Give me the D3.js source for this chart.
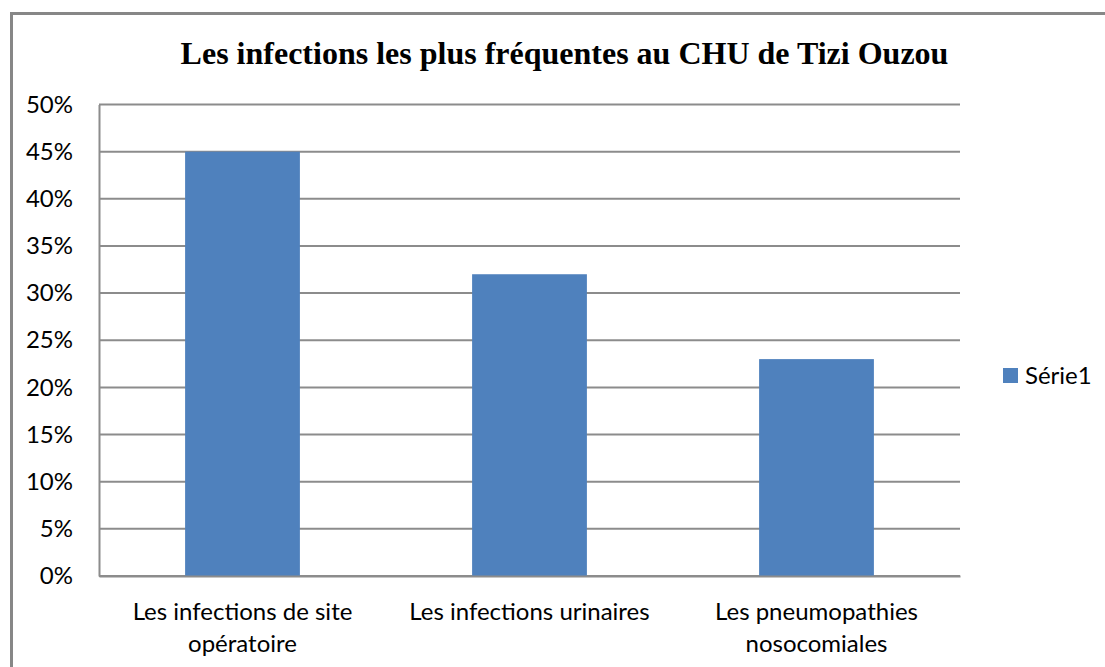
<!DOCTYPE html>
<html>
<head>
<meta charset="utf-8">
<script src="https://cdn.jsdelivr.net/npm/d3@7/dist/d3.min.js"></script>
<style>
  html, body { margin: 0; padding: 0; background: #fff; overflow: hidden; }
  svg { display: block; }
</style>
</head>
<body>
<script>
const title = "Les infections les plus fréquentes au CHU de Tizi Ouzou";
const categories = ["Les infections de site\nopératoire", "Les infections urinaires", "Les pneumopathies\nnosocomiales"];
const values = [0.45, 0.32, 0.23];
const seriesName = "Série1";
const yTicks = [0, 0.05, 0.10, 0.15, 0.20, 0.25, 0.30, 0.35, 0.40, 0.45, 0.50];

const W = 1105, H = 667;
const bodyFont = "Lato, 'Noto Sans', sans-serif";
const svg = d3.select("body").append("svg").attr("width", W).attr("height", H);

// outer frame (only top and left edges are visible in the reference)
svg.append("path")
  .attr("d", `M11.5,${H} L11.5,13.5 L${W},13.5`)
  .attr("fill", "none").attr("stroke", "#878787").attr("stroke-width", 3);

const plot = { left: 99, right: 960, top: 104.5, bottom: 576 };

const x = d3.scaleBand().domain(categories).range([plot.left, plot.right]).padding(0);
const y = d3.scaleLinear().domain([0, 0.5]).range([plot.bottom, plot.top]);

// gridlines
svg.append("g").selectAll("line").data(yTicks).join("line")
  .attr("x1", plot.left).attr("x2", plot.right)
  .attr("y1", d => y(d)).attr("y2", d => y(d))
  .attr("stroke", "#8c8c8c").attr("stroke-width", 2);

// bars
const barW = x.bandwidth() * 0.4;
svg.append("g").selectAll("rect").data(values).join("rect")
  .attr("x", (d, i) => x(categories[i]) + (x.bandwidth() - barW) / 2)
  .attr("width", barW)
  .attr("y", d => y(d))
  .attr("height", d => y(0) - y(d))
  .attr("fill", "#4f81bd");

// y axis
const yAxis = d3.axisLeft(y).tickValues(yTicks).tickSize(0).tickPadding(26)
  .tickFormat(d3.format(".0%"));
const gy = svg.append("g").attr("transform", `translate(${plot.left},0)`).call(yAxis);
gy.select(".domain").attr("stroke", "#8c8c8c").attr("stroke-width", 2);
gy.selectAll("text").attr("font-family", bodyFont).attr("font-size", 24).attr("fill", "#000");

// x axis
const xAxis = d3.axisBottom(x).tickSize(0).tickFormat("");
const gx = svg.append("g").attr("transform", `translate(0,${plot.bottom})`).call(xAxis);
gx.select(".domain").attr("stroke", "#8c8c8c").attr("stroke-width", 2);

svg.append("g").selectAll("text").data(categories).join("text")
  .attr("text-anchor", "middle")
  .attr("font-family", bodyFont).attr("font-size", 24).attr("fill", "#000")
  .each(function (d) {
    const t = d3.select(this);
    d.split("\n").forEach((line, k) => {
      t.append("tspan").attr("x", x(d) + x.bandwidth() / 2).attr("y", 620 + k * 32).text(line);
    });
  });

// title
svg.append("text").attr("x", 564.5).attr("y", 64).attr("text-anchor", "middle")
  .attr("font-family", "'Liberation Serif', 'Times New Roman', serif")
  .attr("font-weight", "bold").attr("font-size", 32).attr("fill", "#000")
  .text(title);

// legend
const lg = svg.append("g");
lg.append("rect").attr("x", 1003).attr("y", 368).attr("width", 15).attr("height", 15).attr("fill", "#4f81bd");
lg.append("text").attr("x", 1025).attr("y", 383.5)
  .attr("font-family", bodyFont).attr("font-size", 24).attr("fill", "#000").text(seriesName);
</script>
</body>
</html>
